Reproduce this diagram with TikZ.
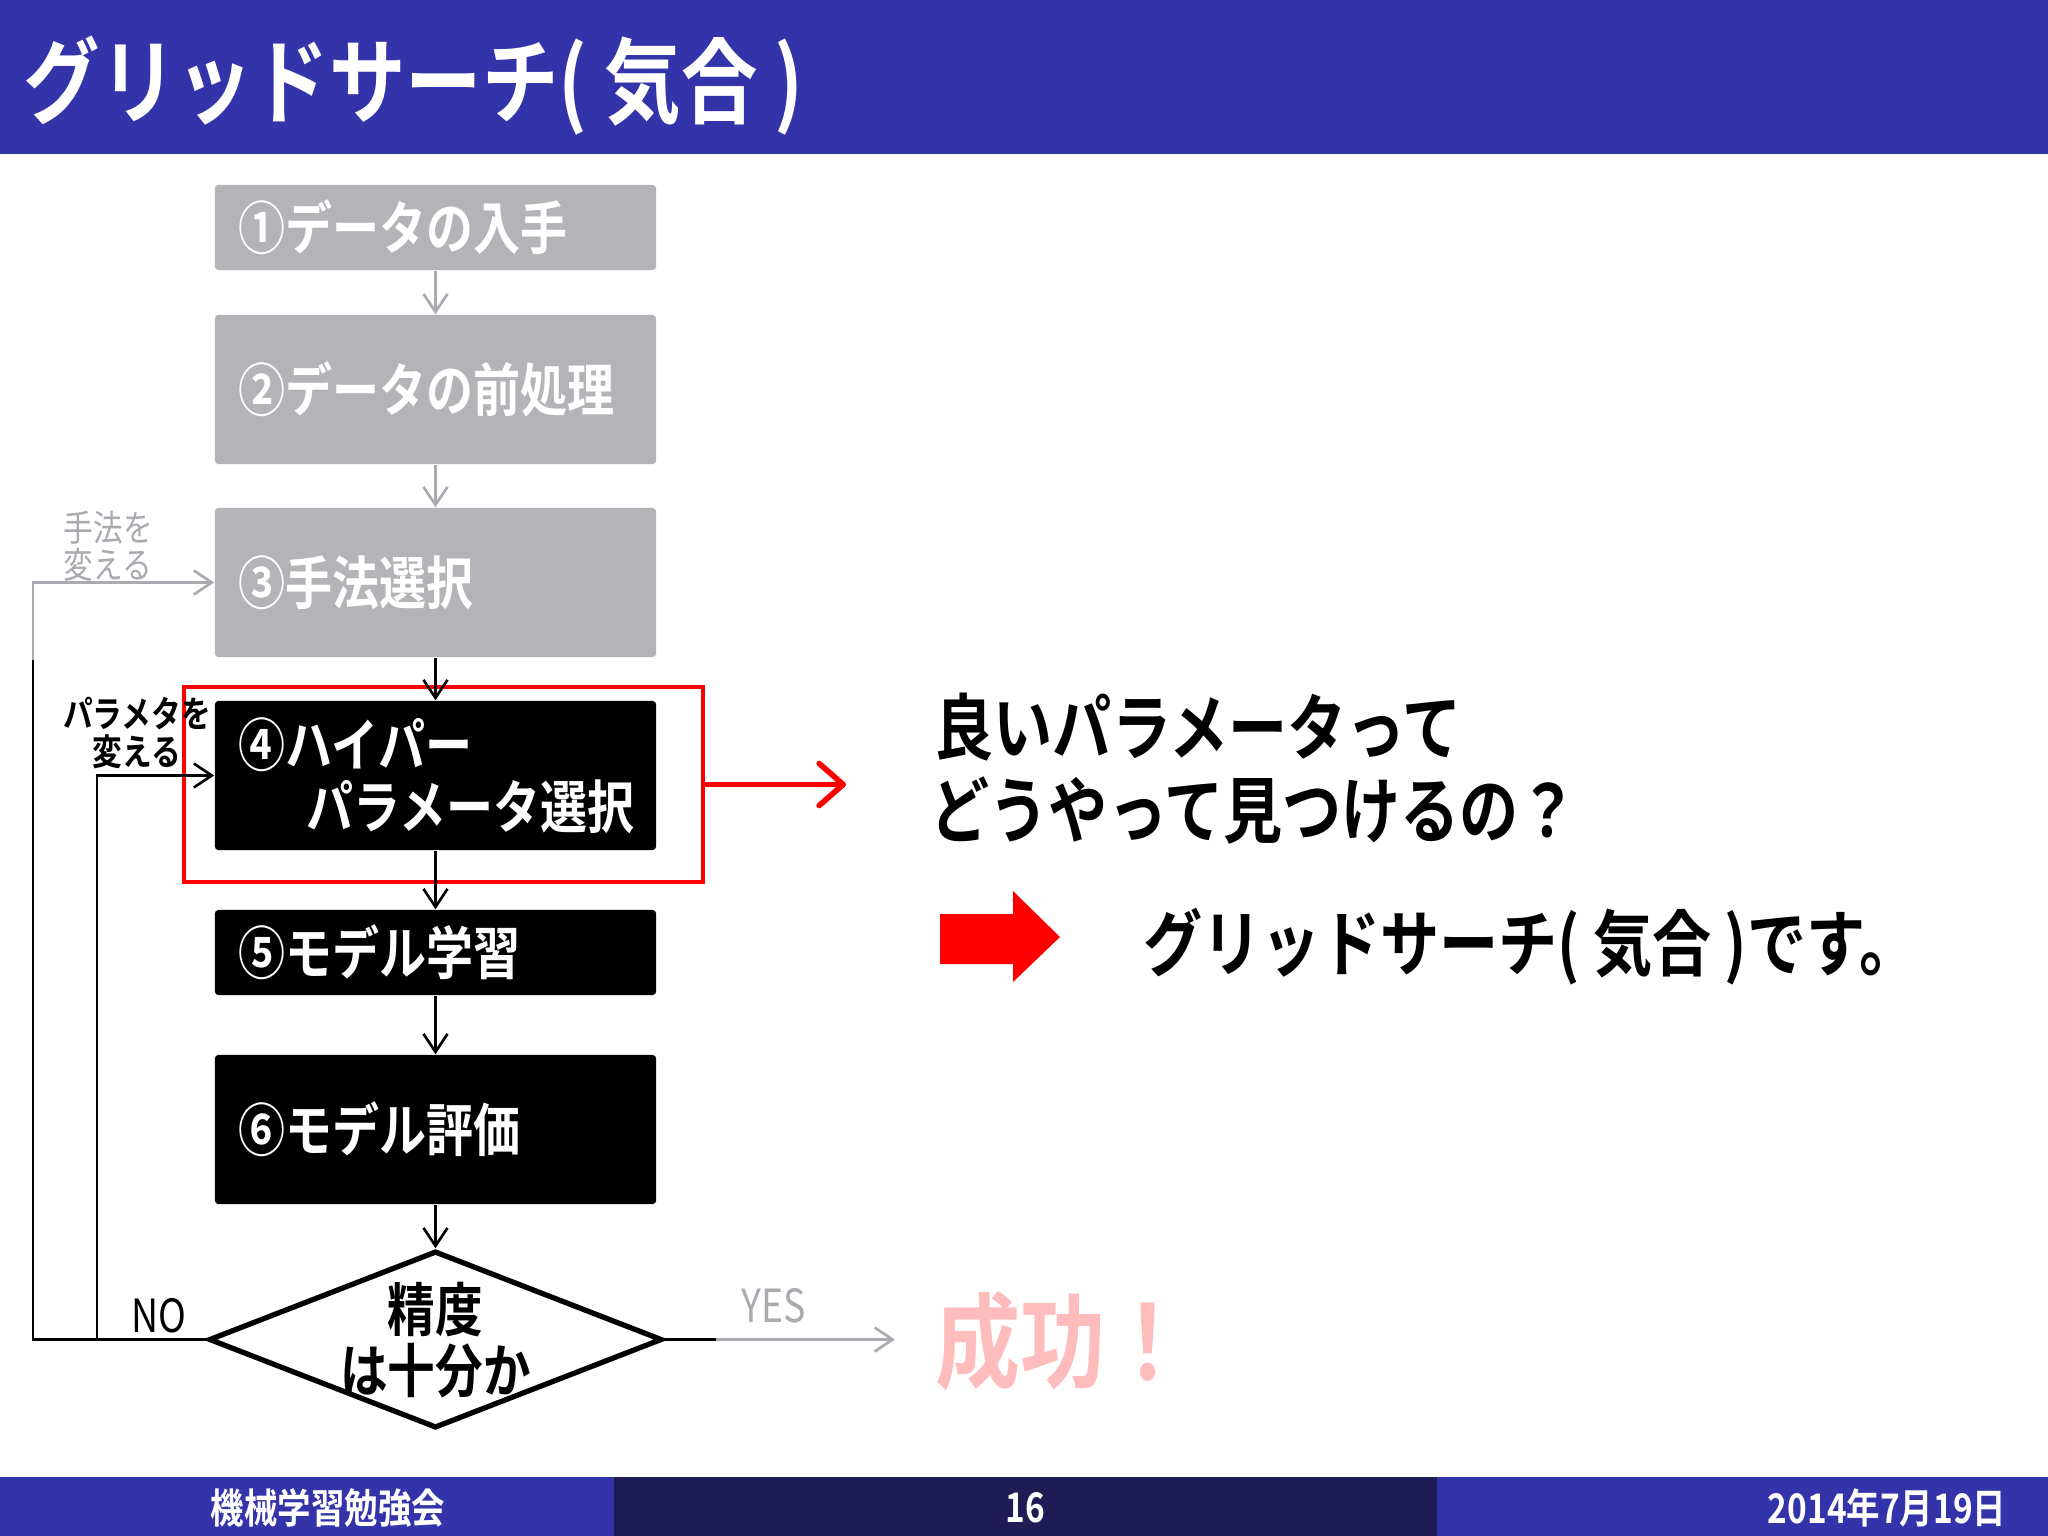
\documentclass[tikz,border=0pt]{standalone}
\usepackage{fontspec}
\newfontfamily\jp{Noto Sans CJK JP}[BoldFont=* Bold,FakeStretch=0.82]
\usetikzlibrary{arrows.meta,shapes.geometric}
\definecolor{slideblue}{RGB}{51,51,170}
\definecolor{slidenavy}{RGB}{30,27,85}
\definecolor{boxgray}{RGB}{180,180,184}
\definecolor{linegray}{RGB}{170,170,176}
\definecolor{pinkish}{RGB}{255,188,188}
\definecolor{alertred}{RGB}{255,0,0}

\begin{document}
\begin{tikzpicture}[x=0.01cm,y=-0.01cm,
  gbox/.style={fill=boxgray,text=white,rounded corners=1pt,minimum width=4.41cm,inner xsep=0.24cm,text width=3.93cm,align=left,font=\jp\bfseries\fontsize{16.3}{17.6}\selectfont},
  kbox/.style={gbox,fill=black},
  gline/.style={draw=linegray,line width=0.75pt,-{Straight Barb[length=1.8mm,width=2.4mm]}},
  kline/.style={draw=black,line width=0.75pt,-{Straight Barb[length=1.8mm,width=2.4mm]}},
  qtext/.style={anchor=west,inner sep=0pt,font=\jp\bfseries\fontsize{20.5}{20.5}\selectfont},
  foot/.style={text=white,inner sep=0pt,font=\jp\bfseries\fontsize{11.6}{11.6}\selectfont}]
%[frame]
\useasboundingbox (0,0) rectangle (2048,1536);
\fill [white] (0,0) rectangle (2048,1536);
\fill [slideblue] (0,0) rectangle (2048,154);
\fill [slideblue] (0,1477) rectangle (614,1536);
\fill [slidenavy] (614,1477) rectangle (1437,1536);
\fill [slideblue] (1437,1477) rectangle (2048,1536);
\path (23,86) node (title) [anchor=west,text=white,inner sep=0pt,font=\jp\bfseries\fontsize{26.5}{26.5}\selectfont] {グリッドサーチ( 気合 )};

%[flow]
\path (435.5,227.5) node (data) [gbox,minimum height=0.85cm] {①データの入手};
\path (435.5,389.5) node (prep) [gbox,minimum height=1.49cm] {②データの前処理};
\path (435.5,582.5) node (method) [gbox,minimum height=1.49cm] {③手法選択};
\path (435.5,775.5) node (hyper) [kbox,minimum height=1.49cm] {④ハイパー\\\hspace*{0.68cm}パラメータ選択};
\path (435.5,952.5) node (train) [kbox,minimum height=0.85cm] {⑤モデル学習};
\path (435.5,1129.5) node (evalu) [kbox,minimum height=1.49cm] {⑥モデル評価};
\path (435.5,1339.5) node (check) [diamond,draw,line width=1.5pt,aspect=2.56,minimum width=4.53cm,minimum height=1.77cm,inner sep=0pt] {};
\path (435.5,1340) node (checktext) [align=center,inner sep=0pt,font=\jp\bfseries\fontsize{16.5}{17.4}\selectfont] {精度\\は十分か};
\path (443.5,784.5) node (focus) [draw=alertred,line width=1.3pt,minimum width=5.19cm,minimum height=1.95cm] {};

\draw [gline] (data) to (prep);
\draw [gline] (prep) to (method);
\draw [kline] (method) to (hyper);
\draw [kline] (hyper) to (train);
\draw [kline] (train) to (evalu);
\draw [kline] (evalu) to (check);

%[loops]
\coordinate (outer) at (33,1339.5);
\coordinate (turn) at (33,660);
\coordinate (inner) at (97,1339.5);
\draw [line width=0.75pt] (check.west) -- (outer) -- (turn);
\draw [gline] (turn) |- (method.west);
\draw [kline] (inner) |- (hyper.west);
\path (63,546.5) node (swapmethod) [anchor=west,align=left,inner sep=0pt,text=linegray,font=\jp\fontsize{10.3}{10.5}\selectfont] {手法を\\変える};
\path (137,733) node (swapparam) [align=center,inner sep=0pt,font=\jp\bfseries\fontsize{10.3}{10.8}\selectfont] {パラメタを\\変える};
\path (159,1316) node (no) [inner sep=0pt,font=\jp\fontsize{13}{13}\selectfont] {NO};

%[yes]
\coordinate (yesmid) at (716,1339.5);
\coordinate (yesend) at (895,1339.5);
\draw [line width=0.75pt] (check.east) -- (yesmid);
\draw [gline] (yesmid) -- (yesend);
\path (774,1306) node (yes) [inner sep=0pt,text=linegray,font=\jp\fontsize{13}{13}\selectfont] {YES};
\path (935,1341) node (success) [anchor=west,inner sep=0pt,text=pinkish,font=\jp\bfseries\fontsize{29.5}{29.5}\selectfont] {成功！};

%[question]
\coordinate (hintend) at (846,784.5);
\draw [alertred,line width=1.6pt,line cap=round,-{Straight Barb[length=2.4mm,width=4.2mm,round]}] (focus.east) -- (hintend);
\path (934,727) node (q1) [qtext] {良いパラメータって};
\path (930,810) node (q2) [qtext] {どうやって見つけるの？};
\fill [alertred] (940,914) -- (1013,914) -- (1013,891) -- (1060,937) -- (1013,982) -- (1013,964) -- (940,964) -- cycle;
\path (1143,947) node (answer) [qtext] {グリッドサーチ( 気合 )です。};

%[footer]
\path (328,1508) node (venue) [foot] {機械学習勉強会};
\path (1025,1508) node (page) [foot] {16};
\path (2007,1508) node (date) [foot,anchor=east] {2014年7月19日};
\end{tikzpicture}
\end{document}
